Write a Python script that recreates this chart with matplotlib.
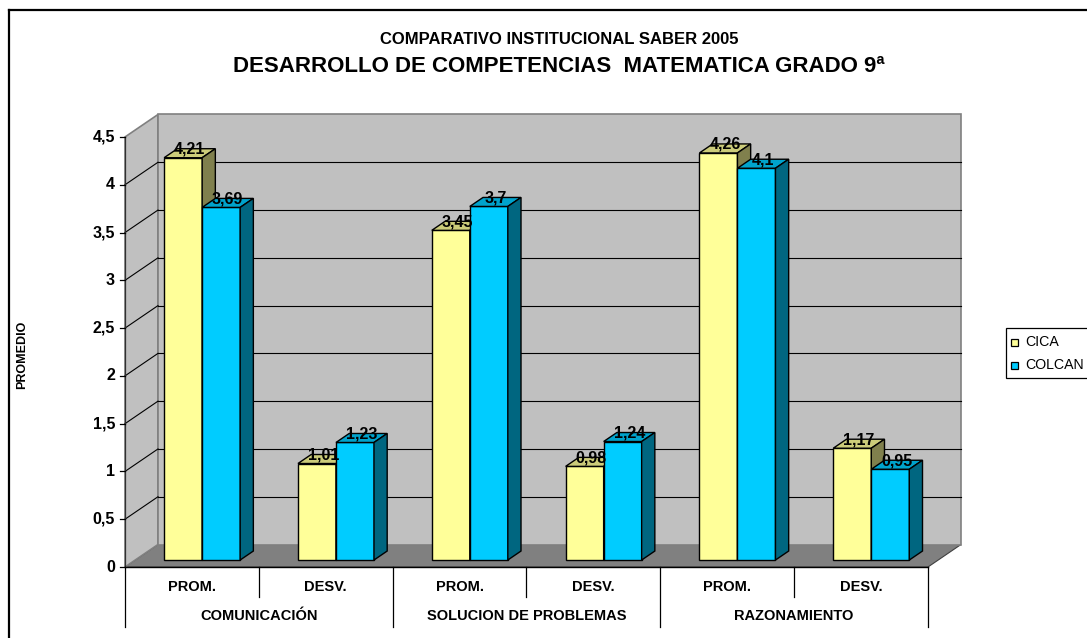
import matplotlib
matplotlib.use("Agg")
import matplotlib.pyplot as plt
from matplotlib.patches import Polygon, Rectangle
from matplotlib.lines import Line2D

plt.rcParams['font.family'] = ['Liberation Sans', 'DejaVu Sans']

# ---- data ----
groups = ["COMUNICACIÓN", "SOLUCION DE PROBLEMAS", "RAZONAMIENTO"]
stats = ["PROM.", "DESV."]
cica = [4.21, 1.01, 3.45, 0.98, 4.26, 1.17]
colcan = [3.69, 1.23, 3.70, 1.24, 4.10, 0.95]
series_names = ["CICA", "COLCAN"]
y_ticks = [0, 0.5, 1, 1.5, 2, 2.5, 3, 3.5, 4, 4.5]
y_max = 4.5

title_1 = "COMPARATIVO INSTITUCIONAL SABER 2005"
title_2 = "DESARROLLO DE COMPETENCIAS  MATEMATICA GRADO 9ª"
y_label = "PROMEDIO"

# ---- style ----
face = {"CICA": ("#FFFF99", "#CCCC7A", "#80804D"),
        "COLCAN": ("#00CCFF", "#00A3CC", "#006680")}
WALL = "#C0C0C0"
FLOOR = "#808080"
EDGE = "#808080"

W_PX, H_PX = 1087, 638
fig = plt.figure(figsize=(W_PX / 100, H_PX / 100), dpi=100)
ax = fig.add_axes([0, 0, 1, 1])
ax.set_axis_off()

# pixel geometry of the plotting box
X0_PX, XCAT_PX = 125, 133.83        # left edge, width of one category
Y0_PX, YUNIT_PX = 567, 95.56        # zero line (from top), px per unit
ax.set_xlim(-X0_PX / XCAT_PX, (W_PX - X0_PX) / XCAT_PX)
ax.set_ylim(-(H_PX - Y0_PX) / YUNIT_PX, Y0_PX / YUNIT_PX)

ncat = len(cica)
DX = 33 / XCAT_PX     # depth offset of back wall
DY = 22.5 / YUNIT_PX
px_x = 1 / XCAT_PX
px_y = 1 / YUNIT_PX

# floor
ax.add_patch(Polygon([(0, 0), (ncat, 0), (ncat + DX, DY), (DX, DY)],
                     closed=True, fc=FLOOR, ec="#404040", lw=0.8, zorder=1))
# side wall
ax.add_patch(Polygon([(0, 0), (DX, DY), (DX, y_max + DY), (0, y_max)],
                     closed=True, fc=WALL, ec=EDGE, lw=1.2, zorder=1))
# back wall
ax.add_patch(Polygon([(DX, DY), (ncat + DX, DY), (ncat + DX, y_max + DY),
                      (DX, y_max + DY)],
                     closed=True, fc=WALL, ec=EDGE, lw=1.2, zorder=1))

# gridlines on back and side wall
for v in y_ticks[1:-1]:
    ax.plot([DX, ncat + DX], [v + DY, v + DY], color="black", lw=0.8, zorder=2)
    ax.plot([0, DX], [v, v + DY], color="black", lw=0.8, zorder=2)

# front axis lines
ax.plot([0, 0], [0, y_max], color="#303030", lw=0.9, zorder=3)
ax.plot([0, ncat], [0, 0], color="black", lw=1.0, zorder=3)
for v in y_ticks:
    ax.plot([-5 * px_x, 0], [v, v], color="black", lw=0.9, zorder=3)
    ax.text(-10 * px_x, v, f"{v:g}".replace(".", ","), ha="right", va="center",
            fontsize=11.5, fontweight="bold", zorder=3)

# bars with pseudo depth
f0, f1 = 0.31, 0.71
bw = 0.284
offsets = [0.216 + bw / 2, 0.5 + bw / 2]

for i in range(ncat):
    for si, (name, vals) in enumerate(zip(series_names, [cica, colcan])):
        v = vals[i]
        fc, tc, sc = face[name]
        xc = i + offsets[si] + f0 * DX
        y0 = f0 * DY
        z = 4 + i * 2 + si * 0.5
        ax.bar(xc, v, width=bw, bottom=y0, color=fc, edgecolor="black",
               lw=1.0, zorder=z)
        xl, xr = xc - bw / 2, xc + bw / 2
        d_x, d_y = (f1 - f0) * DX, (f1 - f0) * DY
        top = [(xl, v + y0), (xr, v + y0), (xr + d_x, v + y0 + d_y),
               (xl + d_x, v + y0 + d_y)]
        side = [(xr, y0), (xr + d_x, y0 + d_y), (xr + d_x, v + y0 + d_y),
                (xr, v + y0)]
        ax.add_patch(Polygon(top, closed=True, fc=tc, ec="black", lw=1.0,
                             zorder=z))
        ax.add_patch(Polygon(side, closed=True, fc=sc, ec="black", lw=1.0,
                             zorder=z))
        ax.text(xc + d_x / 2, v + y0 + d_y / 2 + 4 * px_y,
                f"{v:g}".replace(".", ","), ha="center", va="center",
                fontsize=11.5, fontweight="bold", zorder=30)

# category axis labels (two levels)
for k in range(ncat + 1):
    depth = -60 * px_y if k % 2 == 0 else -30 * px_y
    ax.plot([k, k], [0, depth], color="black", lw=0.9, zorder=3)
for i in range(ncat):
    ax.text(i + 0.5, -20 * px_y, stats[i % 2], ha="center", va="center",
            fontsize=10.5, fontweight="bold")
for g, gname in enumerate(groups):
    ax.text(2 * g + 1, -49 * px_y, gname, ha="center", va="center",
            fontsize=10.5, fontweight="bold")

# titles and axis title
fig.text(559 / W_PX, 1 - 40 / H_PX, title_1, ha="center", va="center",
         fontsize=12, fontweight="bold")
fig.text(559 / W_PX, 1 - 67 / H_PX, title_2, ha="center", va="center",
         fontsize=16, fontweight="bold")
fig.text(22 / W_PX, 1 - 355 / H_PX, y_label, rotation=90, ha="center",
         va="center", fontsize=9, fontweight="bold")

# legend
def fx(p):
    return p / W_PX

def fy(p):
    return 1 - p / H_PX

fig.patches.append(Rectangle((fx(1006), fy(378)), fx(1090) - fx(1006),
                             fy(328) - fy(378), transform=fig.transFigure,
                             fc="white", ec="black", lw=0.9))
for k, (name, ypix) in enumerate(zip(series_names, [342, 365])):
    fig.patches.append(Rectangle((fx(1011), fy(ypix + 3.5)), 7 / W_PX, 7 / H_PX,
                                 transform=fig.transFigure,
                                 fc=face[name][0], ec="black", lw=0.9))
    fig.text(fx(1025), fy(ypix), name, ha="left", va="center", fontsize=10.2)

# outer frame
fig.lines.append(Line2D([fx(9), fx(9)], [fy(10), 0], transform=fig.transFigure,
                        color="black", lw=1.6))
fig.lines.append(Line2D([fx(9), 1], [fy(10), fy(10)], transform=fig.transFigure,
                        color="black", lw=1.6))

fig.savefig("out.png", dpi=100)
